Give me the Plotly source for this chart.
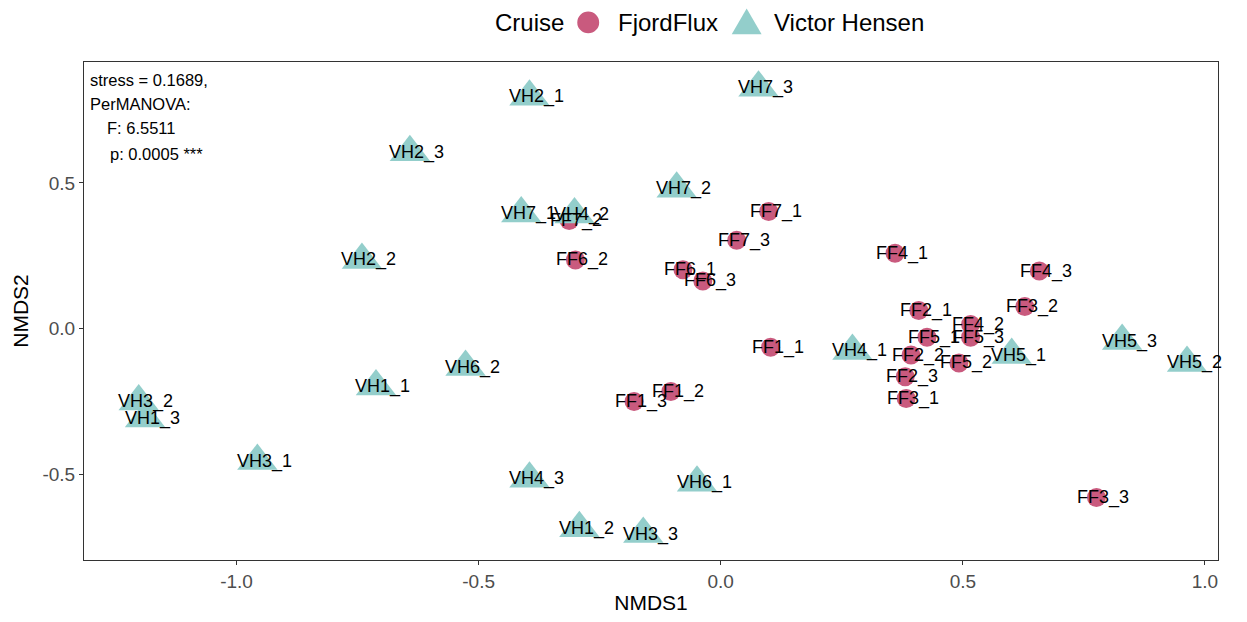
import plotly.graph_objects as go

# ---- data ----
ff_labels = ["FF1_1", "FF1_2", "FF1_3", "FF2_1", "FF2_2", "FF2_3", "FF3_1", "FF3_2", "FF3_3",
             "FF4_1", "FF4_2", "FF4_3", "FF5_1", "FF5_2", "FF5_3", "FF6_1", "FF6_2", "FF6_3",
             "FF7_1", "FF7_2", "FF7_3"]
ff_x = [0.103, -0.103, -0.179, 0.409, 0.393, 0.381, 0.383, 0.628, 0.776,
        0.360, 0.516, 0.658, 0.426, 0.492, 0.516, -0.078, -0.300, -0.037,
        0.099, -0.313, 0.033]
ff_y = [-0.063, -0.215, -0.249, 0.063, -0.090, -0.164, -0.239, 0.076, -0.578,
        0.259, 0.015, 0.198, -0.029, -0.117, -0.029, 0.202, 0.236, 0.164,
        0.402, 0.371, 0.303]

vh_labels = ["VH1_1", "VH1_2", "VH1_3", "VH2_1", "VH2_2", "VH2_3", "VH3_1", "VH3_2", "VH3_3",
             "VH4_1", "VH4_2", "VH4_3", "VH5_1", "VH5_2", "VH5_3", "VH6_1", "VH6_2",
             "VH7_1", "VH7_2", "VH7_3"]
vh_x = [-0.712, -0.292, -1.189, -0.395, -0.741, -0.642, -0.957, -1.202, -0.160,
        0.272, -0.302, -0.395, 0.601, 0.963, 0.829, -0.049, -0.527,
        -0.412, -0.091, 0.078]
vh_y = [-0.198, -0.683, -0.307, 0.795, 0.236, 0.605, -0.453, -0.249, -0.703,
        -0.076, 0.392, -0.514, -0.090, -0.117, -0.042, -0.527, -0.131,
        0.395, 0.480, 0.826]

x_ticks = [-1.0, -0.5, 0.0, 0.5, 1.0]
y_ticks = [-0.5, 0.0, 0.5]
stats_lines = ["stress = 0.1689,", "PerMANOVA:", "F: 6.5511", "p: 0.0005 ***"]
legend_title = "Cruise"
group_names = ["FjordFlux", "Victor Hensen"]

FF_COLOR = "#C95A7E"
VH_COLOR = "#93CECB"
FONT = "Arial, Liberation Sans, sans-serif"

# page offset of the plot div (default body margin) and target plot-area box in page pixels
OFF = 8
L, R, T, B = 80, 1218, 62, 565
def px_x(p):
    return (p - L) / (R - L)
def px_y(p):
    return (B - p) / (B - T)

fig = go.Figure()
fig.add_trace(go.Scatter(x=ff_x, y=ff_y, mode="markers", name=group_names[0], showlegend=False,
                         marker=dict(symbol="circle", size=19, color=FF_COLOR)))
fig.add_trace(go.Scatter(x=vh_x, y=vh_y, mode="markers", name=group_names[1], showlegend=False,
                         marker=dict(symbol="triangle-up", size=35, color=VH_COLOR)))

annotations = []
for lab, x, y in list(zip(ff_labels, ff_x, ff_y)) + list(zip(vh_labels, vh_x, vh_y)):
    annotations.append(dict(x=x, y=y, text=lab, showarrow=False, xshift=7,
                            font=dict(family=FONT, size=18, color="black")))

# stats note (top-left inside panel)
for txt, lx, ly in zip(stats_lines, [84, 84, 101, 104], [80, 104, 129, 155]):
    annotations.append(dict(x=px_x(lx), y=px_y(ly), xref="paper", yref="paper",
                            xanchor="left", yanchor="middle", text=txt, showarrow=False,
                            font=dict(family=FONT, size=16.5, color="black")))

# manual legend (top)
leg_y = px_y(22)
for txt, lx in zip([legend_title] + group_names, [490, 614, 770]):
    annotations.append(dict(x=px_x(lx), y=leg_y, xref="paper", yref="paper",
                            xanchor="left", yanchor="middle", text=txt, showarrow=False,
                            font=dict(family=FONT, size=24, color="black")))

shapes = [
    dict(type="circle", xref="paper", yref="paper", x0=px_x(575), x1=px_x(597),
         y0=px_y(33), y1=px_y(11), fillcolor=FF_COLOR, line=dict(width=0)),
    dict(type="path", xref="paper", yref="paper",
         path=f"M {px_x(730)},{px_y(34)} L {px_x(760)},{px_y(34)} L {px_x(745)},{px_y(8)} Z",
         fillcolor=VH_COLOR, line=dict(width=0)),
]

axis_common = dict(showgrid=False, zeroline=False, showline=True, mirror=True,
                   linecolor="#333333", linewidth=1, ticks="outside", ticklen=4,
                   tickcolor="#333333", tickfont=dict(family=FONT, size=19, color="#4D4D4D"))

fig.update_layout(
    width=1247 - OFF, height=622 - OFF,
    paper_bgcolor="white", plot_bgcolor="white",
    margin=dict(l=L - OFF, r=1247 - R, t=T - OFF, b=622 - B),
    font=dict(family=FONT),
    showlegend=False,
    xaxis=dict(range=[-1.315, 1.027], tickvals=x_ticks, ticktext=[f"{v:.1f}" for v in x_ticks],
               title=dict(text="NMDS1", font=dict(family=FONT, size=21, color="black"), standoff=4),
               **axis_common),
    yaxis=dict(range=[-0.792, 0.914], tickvals=y_ticks, ticktext=[f"{v:.1f}" for v in y_ticks],
               title=dict(text="NMDS2", font=dict(family=FONT, size=21, color="black"), standoff=8),
               **axis_common),
    annotations=annotations,
    shapes=shapes,
)

fig.write_html("out.html")
